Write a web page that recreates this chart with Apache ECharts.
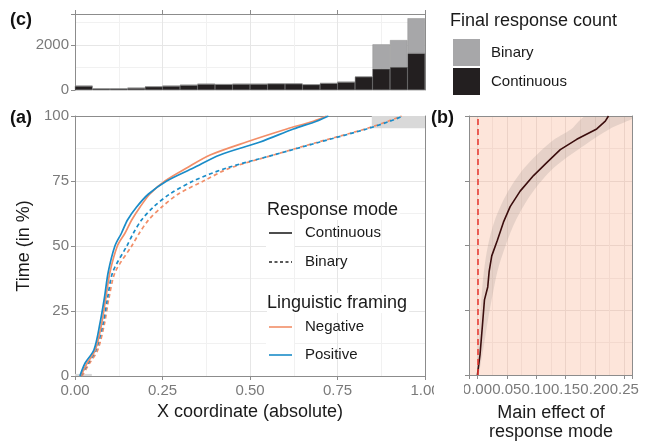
<!DOCTYPE html>
<html>
<head>
<meta charset="utf-8">
<script src="https://cdn.jsdelivr.net/npm/echarts@6/dist/echarts.min.js"></script>
<style>
  html, body { margin: 0; padding: 0; background: #fff; }
  #chart { width: 658px; height: 441px; }
</style>
</head>
<body>
<div id="chart"></div>
<script>
// (c) final response count histogram, 20 bins of width 0.05
const binMid = [0.025, 0.075, 0.125, 0.175, 0.225, 0.275, 0.325, 0.375, 0.425, 0.475,
  0.525, 0.575, 0.625, 0.675, 0.725, 0.775, 0.825, 0.875, 0.925, 0.975]
const countContinuous = [180, 60, 60, 90, 150, 180, 220, 265, 250, 265,
  265, 280, 280, 240, 300, 355, 590, 940, 1020, 1630]
const countBinary = [0, 0, 0, 0, 0, 0, 0, 0, 0, 0,
  0, 0, 0, 0, 0, 0, 0, 1090, 1200, 1560]

// (a) mean x coordinate by time
const timeA = [0, 5, 10, 20, 30, 40, 50, 55, 60, 65, 70, 75, 80, 85, 90, 95, 98, 100]
const negContinuous = [0.016, 0.035, 0.058, 0.076, 0.088, 0.100, 0.121, 0.143, 0.162, 0.186, 0.214, 0.257, 0.319, 0.386, 0.490, 0.605, 0.681, 0.719]
const posContinuous = [0.014, 0.029, 0.054, 0.071, 0.084, 0.095, 0.114, 0.133, 0.150, 0.176, 0.210, 0.262, 0.338, 0.414, 0.529, 0.624, 0.690, 0.724]
const negBinary = [0.020, 0.042, 0.065, 0.084, 0.097, 0.115, 0.162, 0.184, 0.210, 0.248, 0.295, 0.367, 0.443, 0.567, 0.695, 0.829, 0.895, 0.933]
const posBinary = [0.016, 0.038, 0.060, 0.080, 0.093, 0.108, 0.148, 0.167, 0.190, 0.224, 0.271, 0.338, 0.433, 0.567, 0.700, 0.833, 0.900, 0.938]

// (b) main effect of response mode
const timeB = [0, 8, 19, 29, 34, 40, 46, 52, 59, 65, 71, 77, 82, 87, 91, 95, 98, 100]
const effect = [0.000, 0.0045, 0.0085, 0.012, 0.0176, 0.020, 0.0244, 0.034, 0.0443, 0.0557, 0.0727, 0.0955, 0.118, 0.141, 0.169, 0.203, 0.2176, 0.223]
const bandTime = [0, 10, 20, 30, 40, 50, 60, 70, 80, 90, 95, 100]
const bandLo = [0, 0.001, 0.004, 0.007, 0.011, 0.018, 0.030, 0.050, 0.080, 0.125, 0.160, 0.185]
const bandHi = [0.002, 0.010, 0.017, 0.025, 0.034, 0.048, 0.066, 0.092, 0.130, 0.190, 0.225, 0.270]

const pairs = (xs, ys) => xs.map((x, i) => [x, ys[i]])

const ORANGE = '#f28e68'
const BLUE = '#1a8cc8'
const BORDER = '#8c8c8c'
const TICKTEXT = '#7a7a7a'
const FONT = 'Liberation Sans'
const TITLE = { color: '#1a1a1a', fontSize: 18, fontFamily: FONT }

function panelAxis (opt) {
  return Object.assign({
    type: 'value',
    axisLine: { show: true, onZero: false, lineStyle: { color: BORDER, width: 1 } },
    axisTick: { show: true, length: 4, lineStyle: { color: BORDER } },
    axisLabel: { color: TICKTEXT, fontSize: 15, fontFamily: FONT, margin: 6 },
    splitLine: { show: true, lineStyle: { color: '#e6e6e6', width: 1 } },
    minorTick: { show: false, splitNumber: 2 },
    minorSplitLine: { show: true, lineStyle: { color: '#f1f1f1', width: 1 } }
  }, opt)
}

function borderAxis (opt) {
  return Object.assign({
    type: 'value',
    axisLine: { show: true, onZero: false, lineStyle: { color: BORDER, width: 1 } },
    axisTick: { show: false },
    axisLabel: { show: false },
    splitLine: { show: false }
  }, opt)
}

function legendTitle (text, y) {
  return { type: 'text', z: 20, x: 1, y: y, style: { text: text, font: '18px Liberation Sans', fill: '#1a1a1a', verticalAlign: 'middle', backgroundColor: '#fff', padding: [1, 2, 1, 0] } }
}

function legendLabel (text, y) {
  return { type: 'text', z: 20, x: 39, y: y, style: { text: text, font: '15px Liberation Sans', fill: '#1a1a1a', verticalAlign: 'middle' } }
}

function legendKey (y, color, dash) {
  return [
    { type: 'rect', z: 20, shape: { x: 0, y: y - 14, width: 28, height: 28 }, style: { fill: '#fff' } },
    { type: 'line', z: 21, shape: { x1: 3, y1: y, x2: 26, y2: y }, style: { stroke: color, lineWidth: 1.6, lineDash: dash } }
  ]
}

let chart = echarts.init(document.getElementById('chart'), null, { renderer: 'canvas' })

let option = {
  animation: false,
  textStyle: { fontFamily: FONT },
  grid: [
    { left: 75, top: 14, width: 350, height: 76 },
    { left: 75, top: 116, width: 350, height: 260 },
    { left: 469, top: 116, width: 163, height: 259, show: true, backgroundColor: '#fde5da', borderWidth: 0 }
  ],
  xAxis: [
    {
      type: 'category', gridIndex: 0, data: binMid.map(String), boundaryGap: true,
      axisLine: { show: false }, axisTick: { show: false }, axisLabel: { show: false }, splitLine: { show: false }
    },
    panelAxis({ gridIndex: 0, min: 0, max: 1, interval: 0.25, axisLabel: { show: false } }),
    borderAxis({ gridIndex: 0, min: 0, max: 1, position: 'top' }),
    panelAxis({
      gridIndex: 1, min: 0, max: 1, interval: 0.25,
      axisLabel: { color: TICKTEXT, fontSize: 15, fontFamily: FONT, margin: 7, formatter: v => v.toFixed(2) },
      name: 'X coordinate (absolute)', nameLocation: 'middle', nameGap: 27,
      nameTextStyle: TITLE
    }),
    borderAxis({ gridIndex: 1, min: 0, max: 1, position: 'top' }),
    panelAxis({
      gridIndex: 2, min: -0.0143, max: 0.263,
      axisLabel: {
        color: TICKTEXT, fontSize: 15, fontFamily: FONT, margin: 7,
        formatter: v => {
          let k = v / 0.05
          return Math.abs(k - Math.round(k)) < 1e-6 ? v.toFixed(2) : ''
        }
      },
      splitLine: { show: true, lineStyle: { color: '#ecd2c7', width: 1 } },
      minorSplitLine: { show: true, lineStyle: { color: '#f3d9ce', width: 1 } }
    }),
    borderAxis({ gridIndex: 2, min: -0.0143, max: 0.263, position: 'top' })
  ],
  yAxis: [
    panelAxis({
      gridIndex: 0, min: 0, max: 3380, interval: 2000,
      axisLabel: {
        color: TICKTEXT, fontSize: 15, fontFamily: FONT, margin: 6,
        formatter: v => (v % 2000 === 0 ? String(v) : '')
      }
    }),
    borderAxis({ gridIndex: 0, min: 0, max: 3380, position: 'right' }),
    panelAxis({
      gridIndex: 1, min: 0, max: 100, interval: 25,
      name: 'Time (in %)', nameLocation: 'middle', nameGap: 37, nameRotate: 90,
      nameTextStyle: TITLE
    }),
    borderAxis({ gridIndex: 1, min: 0, max: 100, position: 'right' }),
    panelAxis({
      gridIndex: 2, min: 0, max: 100, interval: 25,
      axisLabel: { show: false },
      splitLine: { show: true, lineStyle: { color: '#ecd2c7', width: 1 } },
      minorSplitLine: { show: true, lineStyle: { color: '#f3d9ce', width: 1 } }
    }),
    borderAxis({ gridIndex: 2, min: 0, max: 100, position: 'right' })
  ],
  legend: {
    left: 453, top: 39, orient: 'vertical', padding: 0,
    itemWidth: 27, itemHeight: 27, itemGap: 2,
    data: ['Binary', 'Continuous'],
    icon: 'rect',
    selectedMode: false,
    itemStyle: { borderWidth: 0 },
    textStyle: { fontSize: 15, color: '#1a1a1a', fontFamily: FONT, padding: [0, 0, 0, 6] }
  },
  graphic: [
    { type: 'text', x: 10, y: 20, style: { text: '(c)', font: 'bold 18px Liberation Sans', fill: '#111', verticalAlign: 'middle' } },
    { type: 'text', x: 10, y: 118, style: { text: '(a)', font: 'bold 18px Liberation Sans', fill: '#111', verticalAlign: 'middle' } },
    { type: 'text', x: 431, y: 118, style: { text: '(b)', font: 'bold 18px Liberation Sans', fill: '#111', verticalAlign: 'middle' } },
    { type: 'text', x: 450, y: 21, style: { text: 'Final response count', font: '18px Liberation Sans', fill: '#1a1a1a', verticalAlign: 'middle' } },
    { type: 'text', x: 551, y: 413, style: { text: 'Main effect of', font: '18px Liberation Sans', fill: '#1a1a1a', align: 'center', verticalAlign: 'middle' } },
    { type: 'text', x: 551, y: 432, style: { text: 'response mode', font: '18px Liberation Sans', fill: '#1a1a1a', align: 'center', verticalAlign: 'middle' } },
    // "1.00" is clipped by panel (b) in the original layout
    { type: 'rect', shape: { x: 434, y: 381, width: 30, height: 20 }, style: { fill: '#fff' }, z: 100 },
    // legend for panel (a)
    {
      type: 'group', x: 266, y: 0,
      children: [
        legendTitle('Response mode', 210),
        ...legendKey(233, '#222', null),
        ...legendKey(262, '#222', [3, 2.5]),
        legendLabel('Continuous', 233),
        legendLabel('Binary', 262),
        legendTitle('Linguistic framing', 303),
        ...legendKey(327, ORANGE, null),
        ...legendKey(355, BLUE, null),
        legendLabel('Negative', 327),
        legendLabel('Positive', 355)
      ]
    }
  ],
  series: [
    {
      name: 'Continuous', type: 'bar', xAxisIndex: 0, yAxisIndex: 0, stack: 'count',
      barCategoryGap: '0%', data: countContinuous,
      itemStyle: { color: '#231f20', borderColor: '#444', borderWidth: 0.5 }
    },
    {
      name: 'Binary', type: 'bar', xAxisIndex: 0, yAxisIndex: 0, stack: 'count',
      barCategoryGap: '0%', data: countBinary,
      itemStyle: { color: '#a7a7a9', borderColor: '#8e8e8e', borderWidth: 0.5 }
    },
    {
      type: 'line', xAxisIndex: 3, yAxisIndex: 2, data: [], silent: true,
      markArea: {
        silent: true,
        itemStyle: { color: '#d9d9d9' },
        data: [
          [{ coord: [0.848, 95.3] }, { coord: [1, 100] }],
          [{ coord: [0, 0] }, { coord: [0.048, 0.8] }]
        ]
      }
    },
    {
      name: 'Negative Binary', type: 'line', xAxisIndex: 3, yAxisIndex: 2,
      data: pairs(negBinary, timeA), symbol: 'none', smooth: 0.3,
      lineStyle: { color: ORANGE, width: 1.7, type: [4, 3] }
    },
    {
      name: 'Positive Binary', type: 'line', xAxisIndex: 3, yAxisIndex: 2,
      data: pairs(posBinary, timeA), symbol: 'none', smooth: 0.3,
      lineStyle: { color: BLUE, width: 1.7, type: [4, 3] }
    },
    {
      name: 'Negative Continuous', type: 'line', xAxisIndex: 3, yAxisIndex: 2,
      data: pairs(negContinuous, timeA), symbol: 'none', smooth: 0.3,
      lineStyle: { color: ORANGE, width: 1.7 }
    },
    {
      name: 'Positive Continuous', type: 'line', xAxisIndex: 3, yAxisIndex: 2,
      data: pairs(posContinuous, timeA), symbol: 'none', smooth: 0.3,
      lineStyle: { color: BLUE, width: 1.7 }
    },
    {
      type: 'custom', xAxisIndex: 5, yAxisIndex: 4, clip: true, silent: true,
      data: bandTime.map((t, i) => [bandLo[i], t, bandHi[i]]),
      renderItem: (params, api) => {
        if (params.dataIndex !== 0) return null
        let pts = []
        for (let i = 0; i < bandTime.length; i++) pts.push(api.coord([bandLo[i], bandTime[i]]))
        for (let i = bandTime.length - 1; i >= 0; i--) pts.push(api.coord([bandHi[i], bandTime[i]]))
        return { type: 'polygon', shape: { points: pts, smooth: 0.3 }, style: { fill: 'rgba(150,140,135,0.22)' } }
      }
    },
    {
      name: 'Effect', type: 'line', xAxisIndex: 5, yAxisIndex: 4,
      data: pairs(effect, timeB), symbol: 'none',
      lineStyle: { color: '#3b0d0d', width: 1.6 },
      markLine: {
        silent: true, symbol: 'none', label: { show: false },
        lineStyle: { color: '#e8342c', width: 1.5, type: [6, 4] },
        data: [{ xAxis: 0 }]
      }
    }
  ]
}

chart.setOption(option)
</script>
</body>
</html>
